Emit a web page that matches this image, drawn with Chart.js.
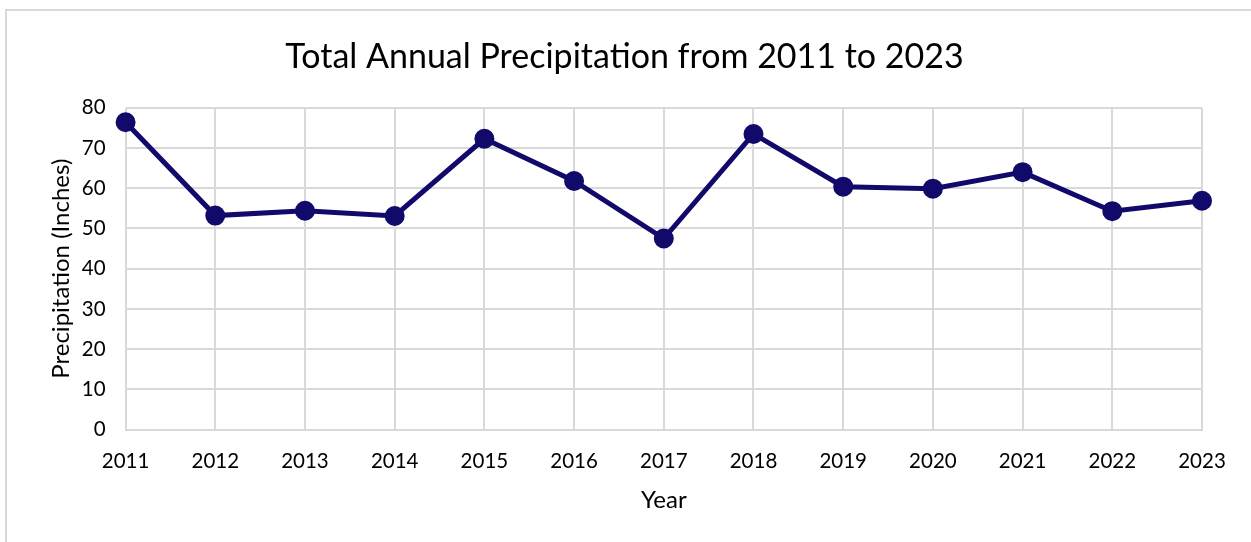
<!DOCTYPE html>
<html>
<head>
<meta charset="utf-8">
<script src="https://cdn.jsdelivr.net/npm/chart.js@4/dist/chart.umd.min.js"></script>
<style>
  html, body { margin: 0; padding: 0; background: #fff; }
  #frame { position: absolute; left: 5px; top: 9px; width: 1246px; height: 533px;
           border-top: 2px solid #d9d9d9; border-left: 2px solid #d9d9d9; box-sizing: border-box; }
  #wrap { position: absolute; left: 0; top: 0; width: 1251px; height: 542px; }
</style>
</head>
<body>
<div id="frame"></div>
<div id="wrap"><canvas id="c" width="1251" height="542"></canvas></div>
<script>
const years = ['2011','2012','2013','2014','2015','2016','2017','2018','2019','2020','2021','2022','2023'];
const precipitation = [76.4, 53.2, 54.4, 53.1, 72.3, 61.8, 47.5, 73.5, 60.4, 59.9, 64.0, 54.3, 56.9];
const yTicks = [0, 10, 20, 30, 40, 50, 60, 70, 80];

const FONT = 'Lato, "Open Sans", sans-serif';
const navy = '#120a6b';

new Chart(document.getElementById('c'), {
  type: 'line',
  data: {
    labels: years,
    datasets: [{
      label: 'Precipitation',
      data: precipitation,
      borderColor: navy,
      backgroundColor: navy,
      borderWidth: 5,
      pointRadius: 7.5,
      pointHoverRadius: 7.5,
      pointBackgroundColor: navy,
      pointBorderColor: navy,
      tension: 0
    }]
  },
  options: {
    responsive: false,
    animation: false,
    devicePixelRatio: 1,
    layout: { padding: { left: 47, right: 49, top: 20, bottom: 27 } },
    plugins: {
      legend: { display: false },
      tooltip: { enabled: false },
      title: {
        display: true,
        text: 'Total Annual Precipitation from 2011 to 2023',
        color: '#000',
        font: { family: FONT, size: 34, weight: 'normal' },
        padding: { top: 17, bottom: 30 }
      }
    },
    scales: {
      x: {
        offset: false,
        grid: { color: '#d9d9d9', lineWidth: 2, drawTicks: false },
        border: { color: '#d9d9d9', width: 2 },
        ticks: { color: '#000', font: { family: FONT, size: 20.5 }, padding: 19, maxRotation: 0 },
        title: { display: true, text: 'Year', color: '#000', font: { family: FONT, size: 24 }, padding: { top: -6, bottom: 0 } }
      },
      y: {
        min: 0, max: 80,
        afterBuildTicks: (axis) => { axis.ticks = yTicks.map(v => ({ value: v })); },
        grid: { color: '#d9d9d9', lineWidth: 2, drawTicks: false },
        border: { display: false },
        ticks: { color: '#000', font: { family: FONT, size: 20.5 }, padding: 20 },
        title: { display: true, text: 'Precipitation (Inches)', color: '#000', font: { family: FONT, size: 24 }, padding: { top: 0, bottom: -14 } }
      }
    }
  }
});
</script>
</body>
</html>
